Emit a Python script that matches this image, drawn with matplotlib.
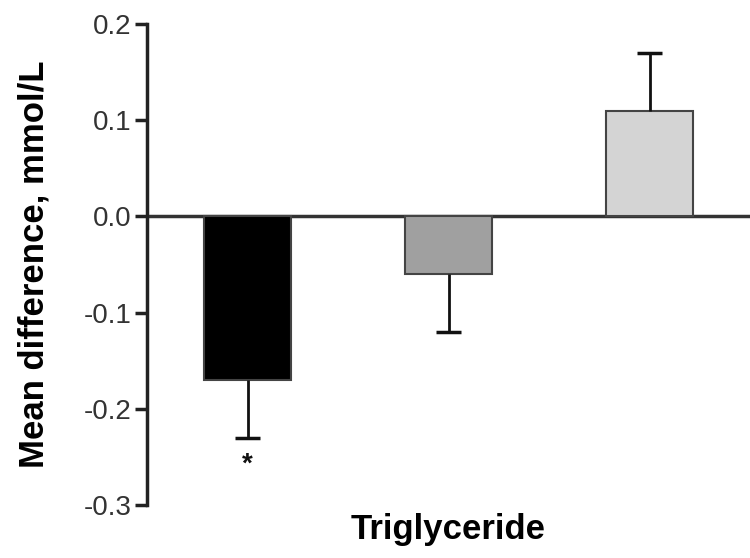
import matplotlib
matplotlib.use("Agg")
import matplotlib.pyplot as plt

plt.rcParams['font.family'] = ['Liberation Sans', 'DejaVu Sans']

groups = ["A", "B", "C"]
means = [-0.17, -0.06, 0.11]
errors = [0.06, 0.06, 0.06]
colors = ["#000000", "#a0a0a0", "#d4d4d4"]
yticks = [-0.3, -0.2, -0.1, 0.0, 0.1, 0.2]

fig = plt.figure(figsize=(7.5, 5.58), dpi=100)
ax = fig.add_axes([0.196, 0.095, 0.804, 0.862])

x = list(range(len(groups)))
ax.axhline(0, color="#333333", linewidth=2.5, zorder=1)
ax.bar(x, means, width=0.43, color=colors, edgecolor="#444444", linewidth=1.5, zorder=2)

# one-sided error bars, pointing away from zero
tips = [m - e if m < 0 else m + e for m, e in zip(means, errors)]
cap = 0.062
ax.vlines(x, means, tips, color="#111111", linewidth=2, zorder=3)
ax.hlines(tips, [i - cap for i in x], [i + cap for i in x], color="#111111", linewidth=2.5, zorder=3)

ax.text(0, -0.258, "*", ha="center", va="center", fontsize=20, fontweight="bold", color="#111111")

ax.set_xlim(-0.5, 2.5)
ax.set_ylim(-0.3, 0.2)
ax.set_yticks(yticks)
ax.set_yticklabels([f"{t:.1f}" for t in yticks], fontsize=20, color="#333333")
ax.set_xticks([])

for s in ["top", "right", "bottom"]:
    ax.spines[s].set_visible(False)
ax.spines["left"].set_linewidth(2.5)
ax.spines["left"].set_color("#222222")
ax.tick_params(axis="y", direction="out", length=9, width=2.5, color="#222222", pad=2)

ax.set_ylabel("Mean difference, mmol/L", fontsize=25, fontweight="bold", labelpad=24)
ax.set_xlabel("Triglyceride", fontsize=25, fontweight="bold", labelpad=6)

fig.savefig("out.png", dpi=100)
